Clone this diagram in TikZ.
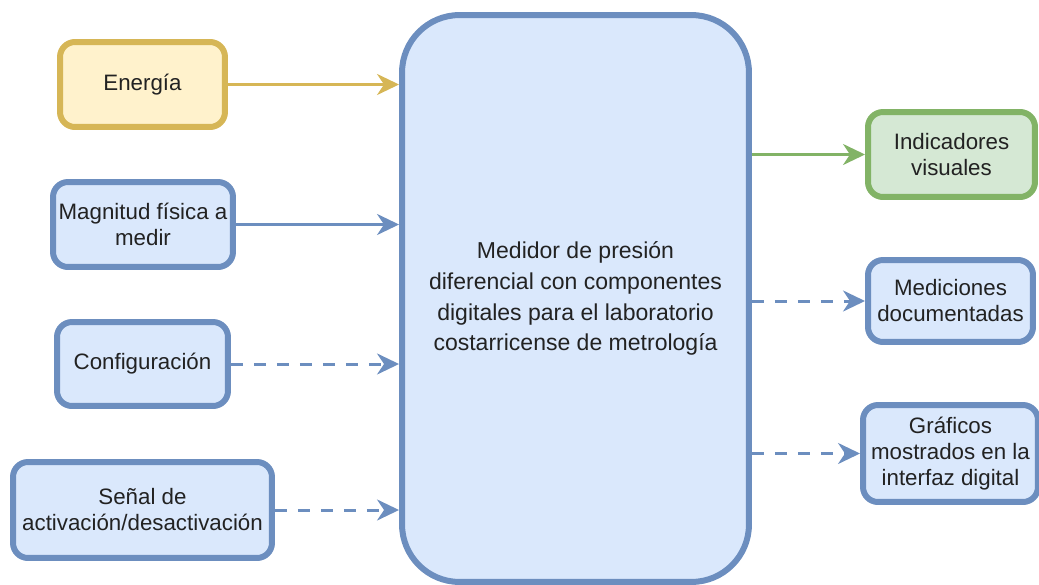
\documentclass[tikz,border=0pt]{standalone}
\usepackage{fontspec}
\setmainfont{Liberation Sans}
\usetikzlibrary{arrows.meta}
\definecolor{bluefill}{HTML}{DAE8FC}
\definecolor{blueline}{HTML}{6C8EBF}
\definecolor{yellowfill}{HTML}{FFF2CC}
\definecolor{yellowline}{HTML}{D6B656}
\definecolor{greenfill}{HTML}{D5E8D4}
\definecolor{greenline}{HTML}{82B366}
\definecolor{textgray}{HTML}{222222}

\begin{document}
\begin{tikzpicture}[x=0.02cm,y=-0.02cm,
  box/.style={draw=blueline,fill=bluefill,line width=0.12cm,rounded corners=0.3cm,
    align=center,inner sep=0pt,text=textgray,font=\fontsize{12.7}{14.8}\selectfont},
  ybox/.style={box,draw=yellowline,fill=yellowfill},
  gbox/.style={box,draw=greenline,fill=greenfill},
  flow/.style={line width=0.06cm,-{Stealth[length=0.44cm,width=0.42cm,inset=0.14cm]}},
  dflow/.style={flow,dash pattern=on 0.24cm off 0.22cm}]

\useasboundingbox (0,0) rectangle (1039,585) ;

\node[box,rounded corners=1.15cm,minimum width=6.94cm,minimum height=11.34cm,
  font=\fontsize{13.1}{17.6}\selectfont] (main) at (575.5,298.5)
  {Medidor de presión\\diferencial con componentes\\digitales para el laboratorio\\costarricense de metrología} ;

\node[ybox,minimum width=3.3cm,minimum height=1.7cm] (ene) at (142.5,84.5) {Energía} ;
\node[box,minimum width=3.6cm,minimum height=1.7cm] (mag) at (143,224.5) {Magnitud física a\\medir} ;
\node[box,minimum width=3.42cm,minimum height=1.68cm] (conf) at (142.5,364) {Configuración} ;
\node[box,minimum width=5.18cm,minimum height=1.92cm] (sen) at (142.5,510) {Señal de\\activación/desactivación} ;

\node[gbox,minimum width=3.34cm,minimum height=1.7cm] (ind) at (951.5,154.5) {Indicadores\\visuales} ;
\node[box,minimum width=3.3cm,minimum height=1.64cm] (med) at (950.5,301) {Mediciones\\documentadas} ;
\node[box,minimum width=3.5cm,minimum height=1.94cm] (gra) at (950.5,453.5) {Gráficos\\mostrados en la\\interfaz digital} ;

\draw[flow,yellowline] (ene.east) -- (ene.east -| main.west) ;
\draw[flow,blueline] (mag.east) -- (mag.east -| main.west) ;
\draw[dflow,blueline] (conf.east) -- (conf.east -| main.west) ;
\draw[dflow,blueline] (sen.east) -- (sen.east -| main.west) ;

\draw[flow,greenline] (main.east |- ind.west) -- (ind.west) ;
\draw[dflow,blueline] (main.east |- med.west) -- (med.west) ;
\draw[dflow,blueline] (main.east |- gra.west) -- (gra.west) ;

\end{tikzpicture}
\end{document}
